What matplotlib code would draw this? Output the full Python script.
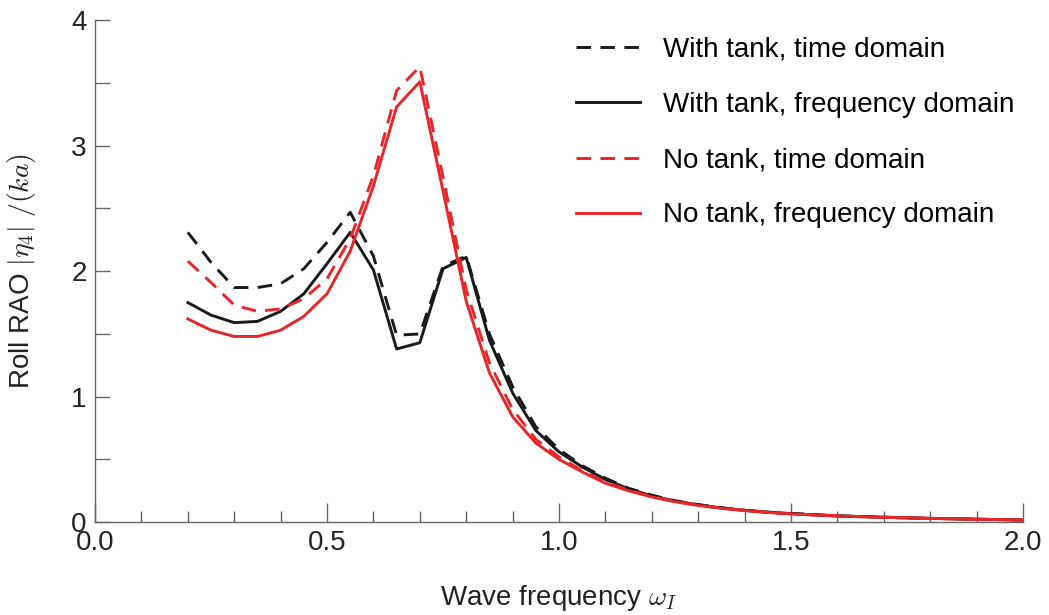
import numpy as np
import matplotlib
matplotlib.use('Agg')
import matplotlib.pyplot as plt
from matplotlib.ticker import MultipleLocator

plt.rcParams.update({'font.size': 20, 'font.family': 'Liberation Sans',
                     'mathtext.fontset': 'cm'})

freq = [0.20, 0.25, 0.30, 0.35, 0.40, 0.45, 0.50, 0.55, 0.60, 0.65, 0.70, 0.75,
        0.80, 0.85, 0.90, 0.95, 1.00, 1.05, 1.10, 1.15, 1.20, 1.25, 1.30, 1.35,
        1.40, 1.45, 1.50, 1.55, 1.60, 1.65, 1.70, 1.75, 1.80, 1.85, 1.90, 1.95, 2.00]

tank_time = [2.31, 2.07, 1.87, 1.87, 1.90, 2.02, 2.23, 2.47, 2.12, 1.49, 1.50, 2.04,
             2.12, 1.50, 1.08, 0.76, 0.58, 0.45, 0.35, 0.27, 0.215, 0.17, 0.14, 0.115,
             0.095, 0.08, 0.07, 0.06, 0.05, 0.045, 0.04, 0.035, 0.03, 0.027, 0.024, 0.02, 0.017]
tank_freq = [1.75, 1.65, 1.59, 1.60, 1.68, 1.82, 2.06, 2.31, 2.01, 1.38, 1.43, 2.02,
             2.11, 1.45, 1.03, 0.73, 0.56, 0.44, 0.34, 0.265, 0.21, 0.168, 0.138, 0.113,
             0.094, 0.079, 0.068, 0.058, 0.05, 0.044, 0.039, 0.034, 0.03, 0.026, 0.023, 0.02, 0.016]
notank_time = [2.08, 1.91, 1.73, 1.68, 1.70, 1.78, 1.94, 2.26, 2.76, 3.44, 3.63, 2.75,
               1.85, 1.27, 0.90, 0.66, 0.52, 0.41, 0.32, 0.255, 0.205, 0.165, 0.135, 0.112,
               0.093, 0.078, 0.067, 0.057, 0.05, 0.044, 0.039, 0.034, 0.03, 0.027, 0.024, 0.02, 0.017]
notank_freq = [1.62, 1.53, 1.48, 1.48, 1.53, 1.64, 1.82, 2.16, 2.68, 3.31, 3.51, 2.64,
               1.76, 1.19, 0.84, 0.63, 0.50, 0.40, 0.31, 0.25, 0.20, 0.162, 0.133, 0.11,
               0.092, 0.077, 0.066, 0.057, 0.049, 0.043, 0.038, 0.034, 0.03, 0.026, 0.023, 0.02, 0.016]

black = '#1a1a1a'
red = '#e8262a'
lw = 2.1
dash = (5.0, 3.2)

fig = plt.figure(figsize=(10.49, 6.15), dpi=100)
ax = fig.add_axes([0.0906, 0.151, 0.8846, 0.816])

ax.plot(freq, tank_time, color=black, lw=lw, dashes=dash, label='With tank, time domain')
ax.plot(freq, tank_freq, color=black, lw=lw, label='With tank, frequency domain')
ax.plot(freq, notank_time, color=red, lw=lw, dashes=dash, label='No tank, time domain')
ax.plot(freq, notank_freq, color=red, lw=lw, label='No tank, frequency domain')

ax.set_xlim(0, 2.0)
ax.set_ylim(0, 4)
ax.xaxis.set_minor_locator(MultipleLocator(0.1))
ax.yaxis.set_major_locator(MultipleLocator(1))
ax.yaxis.set_minor_locator(MultipleLocator(0.5))
ax.set_xticks([0, 0.5, 1.0, 1.5, 2.0])
ax.set_xticklabels(['0.0', '0.5', '1.0', '1.5', '2.0'])

for s in ['top', 'right']:
    ax.spines[s].set_visible(False)
for s in ['left', 'bottom']:
    ax.spines[s].set_color('#666666')
    ax.spines[s].set_linewidth(1.0)

ax.tick_params(axis='both', which='both', direction='in', colors='#666666',
               labelcolor='#222222', width=1.0)
ax.tick_params(axis='x', which='major', length=14, pad=6)
ax.tick_params(axis='x', which='minor', length=8)
ax.tick_params(axis='y', which='both', length=11, pad=6)

ax.set_xlabel(r'Wave frequency $\omega_I$', labelpad=19, color='#222222')
ax.set_ylabel(r'Roll RAO $|\eta_4|\ /(ka)$', labelpad=24, color='#222222')

ax.legend(loc='upper left', bbox_to_anchor=(0.549, 0.94), bbox_transform=fig.transFigure,
          frameon=False, handlelength=2.3, handletextpad=0.85, labelspacing=1.05,
          borderpad=0, borderaxespad=0, fontsize=20)

fig.savefig('out.png', dpi=100)
